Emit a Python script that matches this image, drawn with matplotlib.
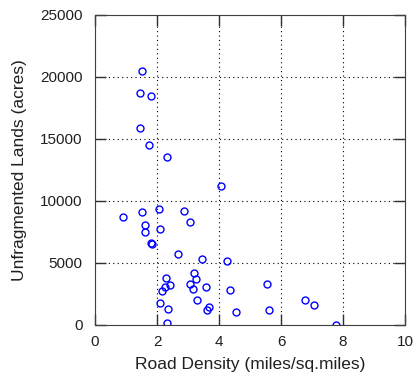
import matplotlib
matplotlib.use("Agg")
import matplotlib.pyplot as plt

# road density (miles/sq.miles) vs unfragmented lands (acres)
road_density = [1.53, 1.45, 1.82, 1.46, 1.73, 2.33, 4.06,
                0.89, 1.51, 2.05, 2.87, 3.06, 1.62, 1.62, 2.10,
                1.80, 1.85, 2.69, 3.46, 4.25, 3.18, 3.25, 2.30,
                2.42, 2.27, 2.16, 3.06, 3.15, 3.59, 4.35, 5.56,
                3.29, 2.09, 2.35, 3.67, 3.61, 4.54, 5.60, 6.78,
                7.05, 2.31, 7.76]
unfragmented = [20480, 18680, 18440, 15860, 14520, 13550, 11240,
                8730, 9140, 9360, 9170, 8330, 8060, 7530, 7750,
                6640, 6530, 5730, 5320, 5130, 4170, 3680, 3760,
                3200, 3090, 2770, 3330, 2900, 3060, 2850, 3280,
                2020, 1800, 1290, 1480, 1180, 1020, 1210, 2020,
                1610, 190, 0]

x_ticks = [0, 2, 4, 6, 8, 10]
y_ticks = [0, 5000, 10000, 15000, 20000, 25000]

plt.rcParams["font.family"] = ["Liberation Sans", "DejaVu Sans"]

fig = plt.figure(figsize=(4.17, 3.79), dpi=100)
ax = fig.add_axes([95 / 417, 54 / 379, 310 / 417, 310 / 379])

ax.plot(road_density, unfragmented, "o", markerfacecolor="none",
        markeredgecolor="blue", markersize=5, markeredgewidth=1)

ax.set_xlim(0, 10)
ax.set_ylim(0, 25000)
ax.set_xticks(x_ticks)
ax.set_yticks(y_ticks)
ax.grid(True, linestyle=(0, (1, 3)), color="black", linewidth=0.8)
ax.set_axisbelow(True)
ax.tick_params(direction="in", top=True, right=True, length=8, width=1,
               colors="#303030", labelcolor="#202020", labelsize=11)
ax.tick_params(axis="y", pad=9)
ax.tick_params(axis="x", pad=7)
for s in ax.spines.values():
    s.set_color("#404040")

ax.set_xlabel("Road Density (miles/sq.miles)", color="#202020", fontsize=12.5, labelpad=6)
ax.set_ylabel("Unfragmented Lands (acres)", color="#202020", fontsize=12.5, labelpad=9)

fig.savefig("out.png", dpi=100)
